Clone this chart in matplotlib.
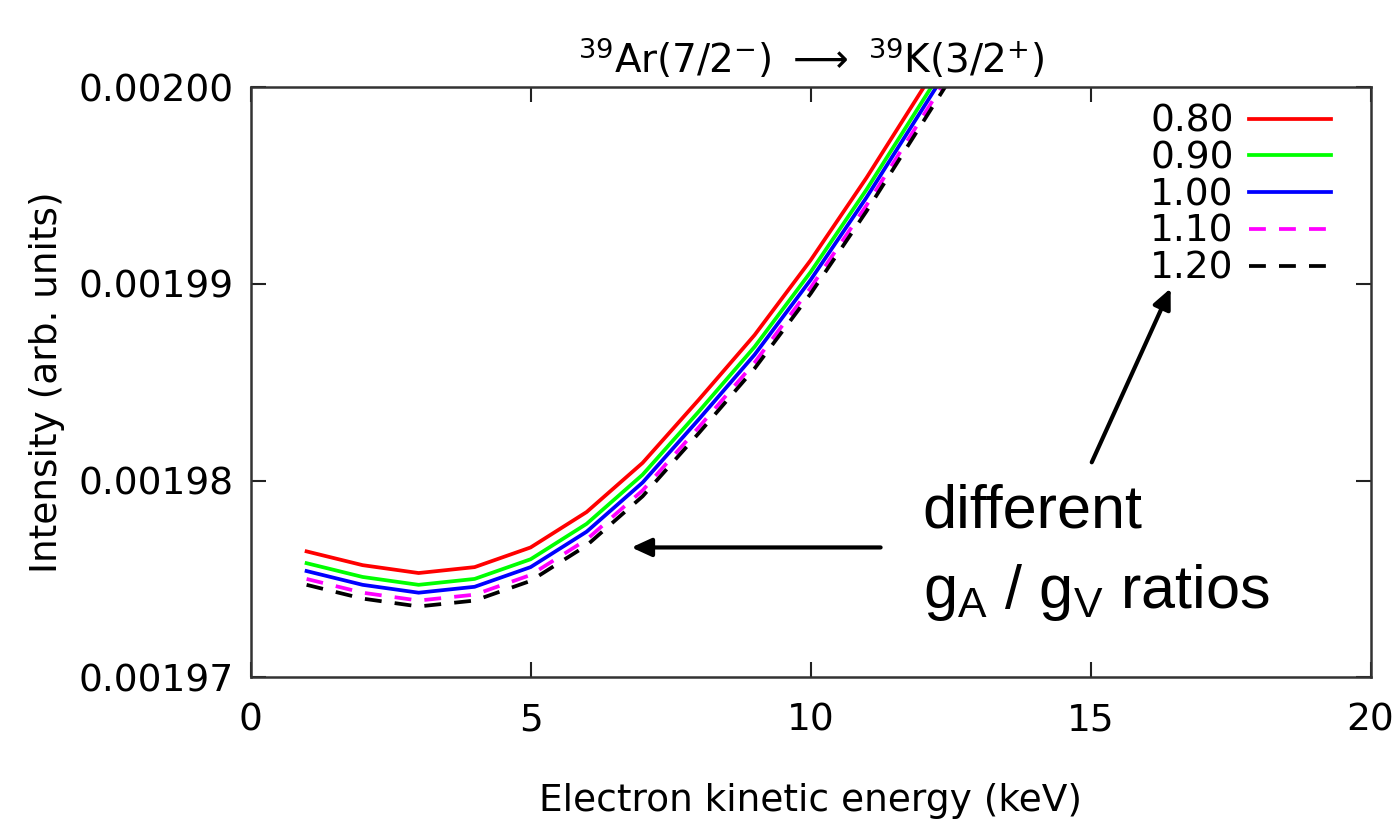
import numpy as np
import matplotlib.pyplot as plt

energy = [1, 2, 3, 4, 5, 6, 7, 8, 9, 10, 11, 12, 13]
ratios = ["0.80", "0.90", "1.00", "1.10", "1.20"]
i_080 = [0.0019764, 0.0019757, 0.0019753, 0.0019756, 0.0019766, 0.0019784, 0.0019809,
         0.0019841, 0.0019874, 0.0019912, 0.0019954, 0.0019999, 0.0020044]
i_090 = [0.0019758, 0.0019751, 0.0019747, 0.0019750, 0.0019760, 0.0019778, 0.0019803,
         0.0019835, 0.0019868, 0.0019906, 0.0019948, 0.0019993, 0.0020038]
i_100 = [0.0019754, 0.0019747, 0.0019743, 0.0019746, 0.0019756, 0.0019774, 0.0019799,
         0.0019831, 0.0019864, 0.0019902, 0.0019944, 0.0019989, 0.0020034]
i_110 = [0.0019750, 0.0019743, 0.0019739, 0.0019742, 0.0019752, 0.0019770, 0.0019795,
         0.0019827, 0.0019860, 0.0019898, 0.0019940, 0.0019985, 0.0020030]
i_120 = [0.0019747, 0.0019740, 0.0019736, 0.0019739, 0.0019749, 0.0019767, 0.0019792,
         0.0019824, 0.0019857, 0.0019895, 0.0019937, 0.0019982, 0.0020027]
yticks = [0.00197, 0.00198, 0.00199, 0.00200]
xticks = [0, 5, 10, 15, 20]

series = [i_080, i_090, i_100, i_110, i_120]
colors = ["#ff0000", "#00ff00", "#0000ff", "#ff00ff", "#000000"]
styles = ["-", "-", "-", (0, (4.5, 3.5)), (0, (4.5, 3.5))]

fig = plt.figure(figsize=(14, 8.3), dpi=100)
ax = fig.add_axes([0.179, 0.184, 0.8, 0.711])

for vals, lab, c, ls in zip(series, ratios, colors, styles):
    ax.plot(energy, vals, color=c, linestyle=ls, linewidth=2.7, label=lab)

ax.set_xlim(0, 20)
ax.set_ylim(0.00197, 0.00200)
ax.set_xticks(xticks)
ax.set_yticks(yticks)
ax.set_yticklabels(["%.5f" % v for v in yticks])
ax.tick_params(direction="in", length=11, width=1.5, labelsize=27,
               top=True, right=True, colors="#222222", labelcolor="black")
ax.tick_params(axis="x", pad=18)
ax.tick_params(axis="y", pad=12)
for s in ax.spines.values():
    s.set_linewidth(1.8)
    s.set_color("#333333")

ax.set_xlabel("Electron kinetic energy (keV)", fontsize=27, labelpad=32)
ax.set_ylabel("Intensity (arb. units)", fontsize=27, labelpad=10)
ax.set_title(r"$^{39}$Ar(7/2$^{-}$) $\longrightarrow$ $^{39}$K(3/2$^{+}$)",
             fontsize=28, pad=10)

ax.legend(loc="upper right", frameon=False, markerfirst=False, fontsize=27,
          handlelength=2.2, labelspacing=0.02, handletextpad=0.4,
          borderaxespad=0.2, bbox_to_anchor=(0.985, 1.01))

ax.annotate("", xy=(6.75, 0.0019766), xytext=(11.3, 0.0019766),
            arrowprops=dict(arrowstyle="-|>,head_length=1.2,head_width=0.55",
                            color="black", lw=3))
ax.annotate("", xy=(16.45, 0.0019899), xytext=(15.0, 0.0019808),
            arrowprops=dict(arrowstyle="-|>,head_length=1.2,head_width=0.55",
                            color="black", lw=3))
ax.text(12.0, 0.0019776, "different", fontsize=44, family="Liberation Sans")
ax.text(12.0, 0.0019735, r"g$_\mathregular{A}$ / g$_\mathregular{V}$ ratios",
        fontsize=44, family="Liberation Sans")

fig.savefig("out.png", dpi=100)
